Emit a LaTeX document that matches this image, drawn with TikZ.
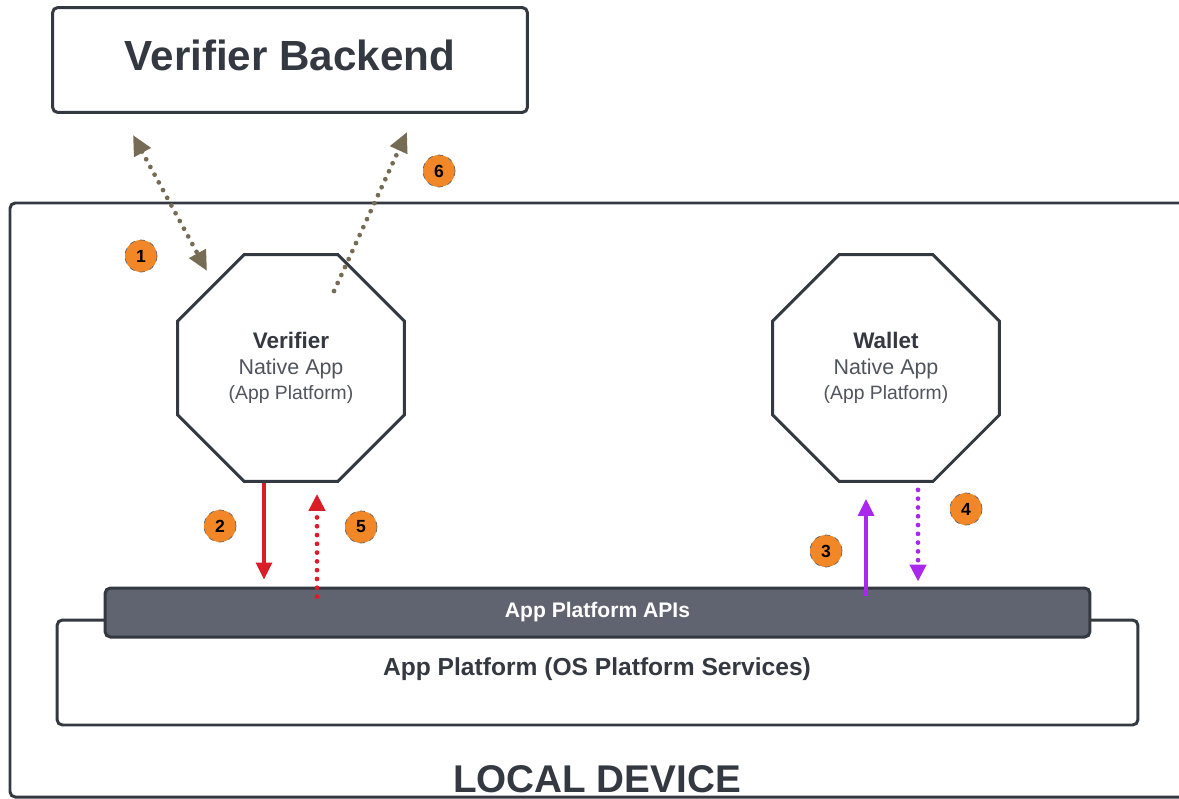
\documentclass[tikz,border=0pt]{standalone}
\usepackage{fontspec}
\setmainfont{Liberation Sans}
\usetikzlibrary{shapes.geometric,arrows.meta}

\definecolor{ink}{RGB}{52,57,65}
\definecolor{softink}{RGB}{80,84,92}
\definecolor{apigray}{RGB}{96,100,112}
\definecolor{badgeorange}{RGB}{242,135,40}
\definecolor{flowred}{RGB}{218,30,40}
\definecolor{flowpurple}{RGB}{170,40,238}
\definecolor{flowbrown}{RGB}{118,108,86}

\tikzset{
  box/.style={draw=ink, line width=1.7pt, rounded corners=3pt, fill=white},
  app/.style={draw=ink, line width=1.7pt, fill=white, regular polygon, regular polygon sides=8,
    minimum size=4.91cm, inner sep=0pt, align=center, text=ink, font=\fontsize{12}{14.6}\selectfont},
  badge/.style={circle, fill=badgeorange, draw=ink!80, dashed, line width=0.4pt,
    minimum size=0.64cm, inner sep=0pt, font=\bfseries\fontsize{10}{12}\selectfont},
  flow/.style={line width=1.8pt, -{Triangle[length=0.34cm,width=0.32cm]}},
  dots/.style={line width=2.7pt, line cap=round, dash pattern=on 0pt off 5pt},
}

\begin{document}
\begin{tikzpicture}[x=0.02cm, y=-0.02cm]
        \useasboundingbox (0,0) rectangle (1179,798);

        % Local device frame (runs off the right and bottom edges)
        \draw[box, fill=none] (10,203) rectangle (1200,797);
        \node at (597,792) (Device) [anchor=base, text=ink, font=\fontsize{22}{26}\selectfont\bfseries] {LOCAL DEVICE};

        % Backend
        \node at (290,60) (Backend) [box, minimum width=9.5cm, minimum height=2.1cm] {};
        \node at (290,55) (BackendText) [text=ink, font=\fontsize{24}{28}\selectfont\bfseries] {Verifier Backend};

        % Native apps
        \node at (291,368) (Verifier) [app] {{\fontsize{12.8}{14.6}\selectfont\bfseries Verifier}\\
          {\color{softink}\fontsize{12.2}{14.6}\selectfont Native App}\\
          {\color{softink}\fontsize{11}{14.6}\selectfont (App Platform)}};
        \node at (886,368) (Wallet) [app] {{\fontsize{12.8}{14.6}\selectfont\bfseries Wallet}\\
          {\color{softink}\fontsize{12.2}{14.6}\selectfont Native App}\\
          {\color{softink}\fontsize{11}{14.6}\selectfont (App Platform)}};

        % Platform
        \node at (597.5,672.5) (Platform) [box, minimum width=21.62cm, minimum height=2.1cm] {};
        \node at (597,669) (PlatformText) [text=ink, font=\fontsize{14}{16}\selectfont\bfseries] {App Platform (OS Platform Services)};
        \node at (597.5,612.5) (APIs) [box, fill=apigray, minimum width=19.7cm, minimum height=0.98cm,
          text=white, font=\fontsize{12}{14}\selectfont\bfseries] {App Platform APIs};

        % Free ends
        \coordinate (B1) at (133,135);
        \coordinate (V1) at (207,271);
        \coordinate (V6) at (334,291);
        \coordinate (B6) at (407,132);

        % Edges
        \draw[flowbrown, dots, {Triangle[length=0.4cm,width=0.36cm]}-{Triangle[length=0.4cm,width=0.36cm]}] (B1) -- (V1);
        \draw[flowbrown, dots, -{Triangle[length=0.4cm,width=0.36cm]}] (V6) -- (B6);
        \draw[flow, flowred] ([xshift=-0.54cm]Verifier.south) -- ([xshift=-0.54cm,yshift=0.14cm]Verifier.south |- APIs.north);
        \draw[flow, flowred, dots] ([xshift=0.52cm,yshift=-0.2cm]Verifier.south |- APIs.north) -- ([xshift=0.52cm,yshift=-0.22cm]Verifier.south);
        \draw[flow, flowpurple] ([xshift=-0.4cm,yshift=-0.18cm]Wallet.south |- APIs.north) -- ([xshift=-0.4cm,yshift=-0.32cm]Wallet.south);
        \draw[flow, flowpurple, dots] ([xshift=0.64cm,yshift=-0.14cm]Wallet.south) -- ([xshift=0.64cm,yshift=0.1cm]Wallet.south |- APIs.north);

        % Step badges
        \node at (141,256) (S1) [badge] {1};
        \node at (220,526) (S2) [badge] {2};
        \node at (826,551) (S3) [badge] {3};
        \node at (966,509) (S4) [badge] {4};
        \node at (361,527) (S5) [badge] {5};
        \node at (439,171) (S6) [badge] {6};
\end{tikzpicture}
\end{document}
